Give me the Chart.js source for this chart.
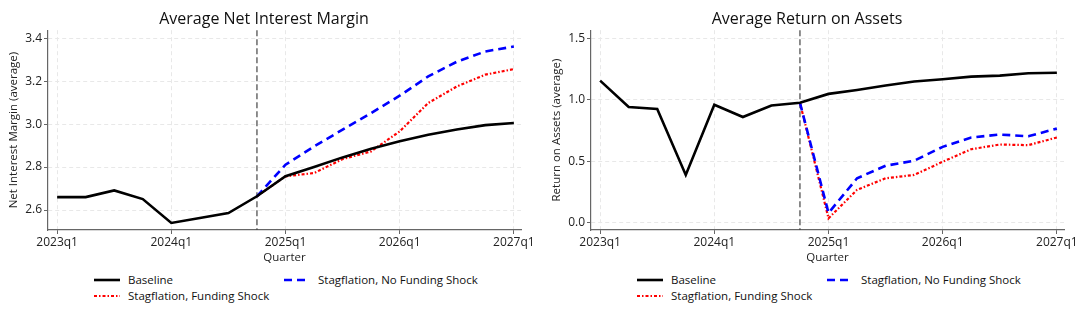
<!DOCTYPE html>
<html>
<head>
<meta charset="utf-8">
<script src="https://cdn.jsdelivr.net/npm/chart.js@4"></script>
<style>
  body { margin: 0; background: #fff; font-family: "Open Sans", sans-serif; }
  .wrap { display: flex; width: 1086px; height: 315px; }
  .panel { position: relative; width: 543px; height: 315px; }
  .panel canvas { position: absolute; left: 0; top: 0; }
  .legend { position: absolute; left: 0; top: 272px; width: 543px; font-size: 11.5px; color: #111; }
  .item { position: absolute; display: flex; align-items: center; white-space: nowrap; }
  .item svg { margin-right: 8px; }
</style>
</head>
<body>
<div class="wrap">
  <div class="panel"><canvas id="nimChart" width="543" height="265"></canvas><div class="legend" id="nimLegend"></div></div>
  <div class="panel"><canvas id="roaChart" width="543" height="265"></canvas><div class="legend" id="roaLegend"></div></div>
</div>
<script>
// Trimestres 2023q1 .. 2027q1
const quarters = ['2023q1','2023q2','2023q3','2023q4','2024q1','2024q2','2024q3','2024q4',
  '2025q1','2025q2','2025q3','2025q4','2026q1','2026q2','2026q3','2026q4','2027q1'];
const shockIndex = 7; // 2024q4, línea vertical

// Margen de interés neto
const nimBaseline = [2.660, 2.660, 2.691, 2.651, 2.540, 2.563, 2.586, 2.664,
  2.757, 2.800, 2.845, 2.885, 2.920, 2.950, 2.975, 2.995, 3.005];
const nimNoFunding = [null, null, null, null, null, null, null, 2.664,
  2.811, 2.896, 2.974, 3.051, 3.132, 3.222, 3.290, 3.338, 3.361];
const nimFunding = [null, null, null, null, null, null, null, 2.664,
  2.757, 2.772, 2.837, 2.873, 2.966, 3.098, 3.175, 3.230, 3.256];

// Rentabilidad sobre activos
const roaBaseline = [1.156, 0.941, 0.925, 0.390, 0.960, 0.860, 0.954, 0.976,
  1.048, 1.080, 1.116, 1.148, 1.167, 1.188, 1.196, 1.215, 1.220];
const roaNoFunding = [null, null, null, null, null, null, null, 0.976,
  0.081, 0.363, 0.465, 0.505, 0.618, 0.694, 0.718, 0.704, 0.766];
const roaFunding = [null, null, null, null, null, null, null, 0.976,
  0.038, 0.269, 0.363, 0.390, 0.497, 0.599, 0.637, 0.632, 0.694];

const FONT = '"Open Sans", sans-serif';

const shockLine = {
    id: 'shockLine',
    beforeDatasetsDraw(chart) {
        const { ctx, chartArea, scales } = chart;
        const x = scales.x.getPixelForValue(shockIndex);
        ctx.save();
        ctx.strokeStyle = '#444';
        ctx.lineWidth = 1.2;
        ctx.setLineDash([6, 3]);
        ctx.beginPath();
        ctx.moveTo(x, chartArea.top);
        ctx.lineTo(x, chartArea.bottom);
        ctx.stroke();
        ctx.restore();
    }
};

function toPoints(arr) {
    return arr.map((v, i) => ({ x: i, y: v }));
}

function makeChart(id, title, yTitle, base, noFund, fund, yMin, yMax, yStep) {
    const ctx = document.getElementById(id).getContext('2d');
    return new Chart(ctx, {
        type: 'line',
        data: {
            datasets: [
                { label: 'Stagflation, Funding Shock', data: toPoints(fund), borderColor: '#ff0000',
                  borderWidth: 2.2, borderDash: [3, 2, 1.5, 2], order: 3 },
                { label: 'Stagflation, No Funding Shock', data: toPoints(noFund), borderColor: '#0000ff',
                  borderWidth: 2.6, borderDash: [8, 5], order: 2 },
                { label: 'Baseline', data: toPoints(base), borderColor: '#000000',
                  borderWidth: 2.6, order: 1 }
            ]
        },
        options: {
            responsive: false,
            animation: false,
            spanGaps: false,
            layout: { padding: { left: 7, right: 22, top: 0, bottom: 0 } },
            elements: { point: { radius: 0 }, line: { tension: 0, borderCapStyle: 'butt' } },
            plugins: {
                legend: { display: false },
                tooltip: { enabled: false },
                title: {
                    display: true, text: title, color: '#111',
                    font: { family: FONT, size: 16, weight: 'normal' },
                    padding: { top: 10, bottom: 1 }
                }
            },
            scales: {
                x: {
                    type: 'linear', min: -0.32, max: 16.25,
                    afterFit(scale) { scale.height = 35; },
                    afterBuildTicks(scale) {
                        scale.ticks = [0, 4, 8, 12, 16].map(v => ({ value: v }));
                    },
                    ticks: {
                        callback: v => quarters[v],
                        color: '#222', font: { family: FONT, size: 12 }, padding: 1, maxRotation: 0
                    },
                    grid: { color: '#e8e8e8', tickColor: '#666', tickLength: 4 },
                    // en v4, border.dash se aplica a las líneas de la rejilla
                    border: { color: '#666', width: 1.2, dash: [4, 3] },
                    title: { display: true, text: 'Quarter', color: '#222',
                        font: { family: FONT, size: 11.5 }, padding: { top: 1, bottom: 0 } }
                },
                y: {
                    min: yMin, max: yMax,
                    afterFit(scale) { scale.width = 41; },
                    afterBuildTicks(scale) {
                        const t = [];
                        for (let v = Math.ceil(yMin / yStep) * yStep; v <= yMax + 1e-9; v += yStep) t.push({ value: +v.toFixed(3) });
                        scale.ticks = t;
                    },
                    ticks: {
                        callback: v => v.toFixed(1),
                        color: '#222', font: { family: FONT, size: 12 }, padding: 2
                    },
                    grid: { color: '#e8e8e8', tickColor: '#666', tickLength: 4 },
                    border: { color: '#666', width: 1.2, dash: [4, 3] },
                    title: { display: true, text: yTitle, color: '#222',
                        font: { family: FONT, size: 11.5 }, padding: 0 }
                }
            }
        },
        plugins: [shockLine]
    });
}

makeChart('nimChart', 'Average Net Interest Margin', 'Net Interest Margin (average)',
    nimBaseline, nimNoFunding, nimFunding, 2.507, 3.437, 0.2);
makeChart('roaChart', 'Average Return on Assets', 'Return on Assets (average)',
    roaBaseline, roaNoFunding, roaFunding, -0.057, 1.565, 0.5);

// Leyenda en HTML (dos columnas como el original)
function sample(color, width, dash) {
    return `<svg width="26" height="6"><line x1="0" y1="3" x2="26" y2="3" stroke="${color}" stroke-width="${width}" stroke-dasharray="${dash}"/></svg>`;
}
function buildLegend(id) {
    const el = document.getElementById(id);
    el.innerHTML =
        `<div class="item" style="left:94px;top:0">${sample('#000', 2.6, '')}Baseline</div>` +
        `<div class="item" style="left:284px;top:0">${sample('#0000ff', 2.6, '8 5')}Stagflation, No Funding Shock</div>` +
        `<div class="item" style="left:94px;top:16px">${sample('#ff0000', 2.2, '3 2 1.5 2')}Stagflation, Funding Shock</div>`;
}
buildLegend('nimLegend');
buildLegend('roaLegend');
</script>
</body>
</html>
